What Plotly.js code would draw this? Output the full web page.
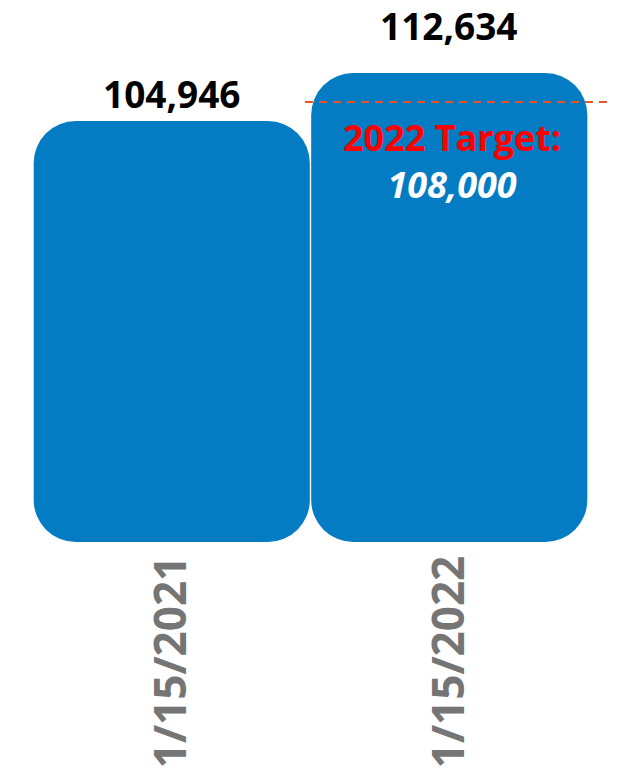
<!DOCTYPE html>
<html>
<head>
<meta charset="utf-8">
<script src="https://cdn.plot.ly/plotly-3.0.1.min.js"></script>
<style>html,body{margin:0;padding:0;background:#fff;}#chart{width:618px;height:775px;}</style>
</head>
<body>
<div id="chart"></div>
<script>
// ---- data ----
const categories = ['1/15/2021', '1/15/2022'];
const values = [104946, 112634];
const targetValue = 108000;
const targetLabel = '2022 Target:';
const axisFloor = 37500; // value where the bars visually start

// ---- build ----
const barColor = '#037CC4';

const bars = {
  type: 'bar', x: categories,
  base: values.map(() => axisFloor),
  y: values.map(v => v - axisFloor),
  marker: {color: barColor, cornerradius: 42},
  hoverinfo: 'skip', showlegend: false
};

const fmt = v => v.toLocaleString('en-US');
const labelShift = [0, 20];
const annotations = values.map((v, i) => ({
  x: categories[i], y: v, xref: 'x', yref: 'y',
  text: '<b>' + fmt(v) + '</b>', showarrow: false,
  yanchor: 'bottom', yshift: labelShift[i],
  font: {family: 'Open Sans', size: 37, color: '#000000'}
}));
annotations.push({
  x: categories[1], y: targetValue, xref: 'x', yref: 'y',
  text: '<b><span style="color:#FF0000">' + targetLabel + '</span><br><i>' + fmt(targetValue) + '</i></b>',
  showarrow: false, yanchor: 'top', yshift: -9, xshift: 3,
  font: {family: 'Open Sans', size: 36, color: '#FFFFFF'}
});

const layout = {
  width: 618, height: 775,
  margin: {l: 33, r: 30, t: 0, b: 233},
  paper_bgcolor: '#ffffff', plot_bgcolor: '#ffffff',
  bargap: 0.005,
  showlegend: false,
  xaxis: {
    type: 'category', tickangle: -90, showgrid: false, zeroline: false, showline: false,
    ticks: '', ticklabelstandoff: 4,
    tickfont: {family: 'Open Sans', size: 44, color: '#757575', weight: 'bold'}
  },
  yaxis: {
    range: [axisFloor, axisFloor + 542 * 160.2], visible: false, showgrid: false, zeroline: false
  },
  shapes: [{
    type: 'line', xref: 'paper', yref: 'y', x0: 0.49, x1: 1.043, y0: targetValue, y1: targetValue,
    line: {color: '#E8532B', width: 2, dash: '8px,6px'}, layer: 'above'
  }],
  annotations: annotations
};

Plotly.newPlot('chart', [bars], layout, {displayModeBar: false, staticPlot: true});
</script>
</body>
</html>
